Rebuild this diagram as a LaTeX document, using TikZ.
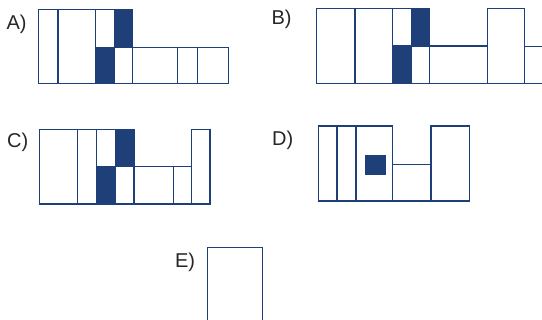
\documentclass[tikz,border=0pt]{standalone}
\usepackage{fontspec}
\setmainfont{Liberation Sans}
\definecolor{boxblue}{HTML}{1F3F78}

\begin{document}
\begin{tikzpicture}[x=1pt, y=-1pt, line width=1.3pt, draw=boxblue,
	optlabel/.style={anchor=base west, inner sep=0, font=\fontsize{20}{24}\selectfont, text=black!85},
	dark/.style={fill=boxblue, draw=boxblue}]
	\useasboundingbox (0,0) rectangle (542,320);
	% Labels:
	\node[optlabel] (labA) at (6, 29.5) {A)};
	\node[optlabel] (labB) at (271, 25) {B)};
	\node[optlabel] (labC) at (6.5, 148) {C)};
	\node[optlabel] (labD) at (271.5, 145.5) {D)};
	\node[optlabel] (labE) at (174.5, 268) {E)};
	% A:
	\draw[dark] (114.7, 9.3) rectangle (132.3, 47.3);
	\draw[dark] (95.7, 47.3) rectangle (114.7, 83.3);
	\draw (38.3, 9.3) rectangle (58, 83.3);
	\draw (58, 9.3) rectangle (95.7, 83.3);
	\draw (95.7, 9.3) rectangle (114.7, 47.3);
	\draw (114.7, 47.3) rectangle (132.3, 83.3);
	\draw (132.3, 47.3) rectangle (177.7, 83.3);
	\draw (177.7, 47.3) rectangle (197.3, 83.3);
	\draw (197.3, 47.3) rectangle (228.3, 83.3);
	% B:
	\draw[dark] (411.3, 8.7) rectangle (429.7, 46);
	\draw[dark] (392.7, 46) rectangle (411.3, 83.3);
	\draw (316.7, 8.7) rectangle (355, 83.3);
	\draw (355, 8.7) rectangle (392.7, 83.3);
	\draw (392.7, 8.7) rectangle (411.3, 46);
	\draw (411.3, 46) rectangle (429.7, 83.3);
	\draw (429.7, 46) rectangle (487.7, 83.3);
	\draw (487.7, 8.7) rectangle (524.3, 83.3);
	\draw (545, 46.7) -- (524.3, 46.7) -- (524.3, 83.3) -- (545, 83.3);
	% C:
	\draw[dark] (115.7, 129.3) rectangle (134, 166.7);
	\draw[dark] (96.7, 166.7) rectangle (115.7, 204);
	\draw (39.3, 129.3) rectangle (77.7, 204);
	\draw (77.7, 129.3) rectangle (96.7, 204);
	\draw (96.7, 129.3) rectangle (115.7, 166.7);
	\draw (115.7, 166.7) rectangle (134, 204);
	\draw (134, 166.7) rectangle (173.7, 204);
	\draw (173.7, 166.7) rectangle (191.7, 204);
	\draw (191.7, 129.3) rectangle (210, 204);
	% D:
	\draw (318.7, 126) rectangle (337, 201);
	\draw (337, 126) rectangle (356, 201);
	\draw (356, 126) rectangle (392.7, 201);
	\draw (392.7, 164.3) rectangle (431, 201);
	\draw (431, 126) rectangle (469.3, 201);
	\draw[dark] (366, 156) rectangle (385, 174.7);
	% E:
	\draw (207.3, 325) -- (207.3, 247.3) -- (262.7, 247.3) -- (262.7, 325);
\end{tikzpicture}
\end{document}
